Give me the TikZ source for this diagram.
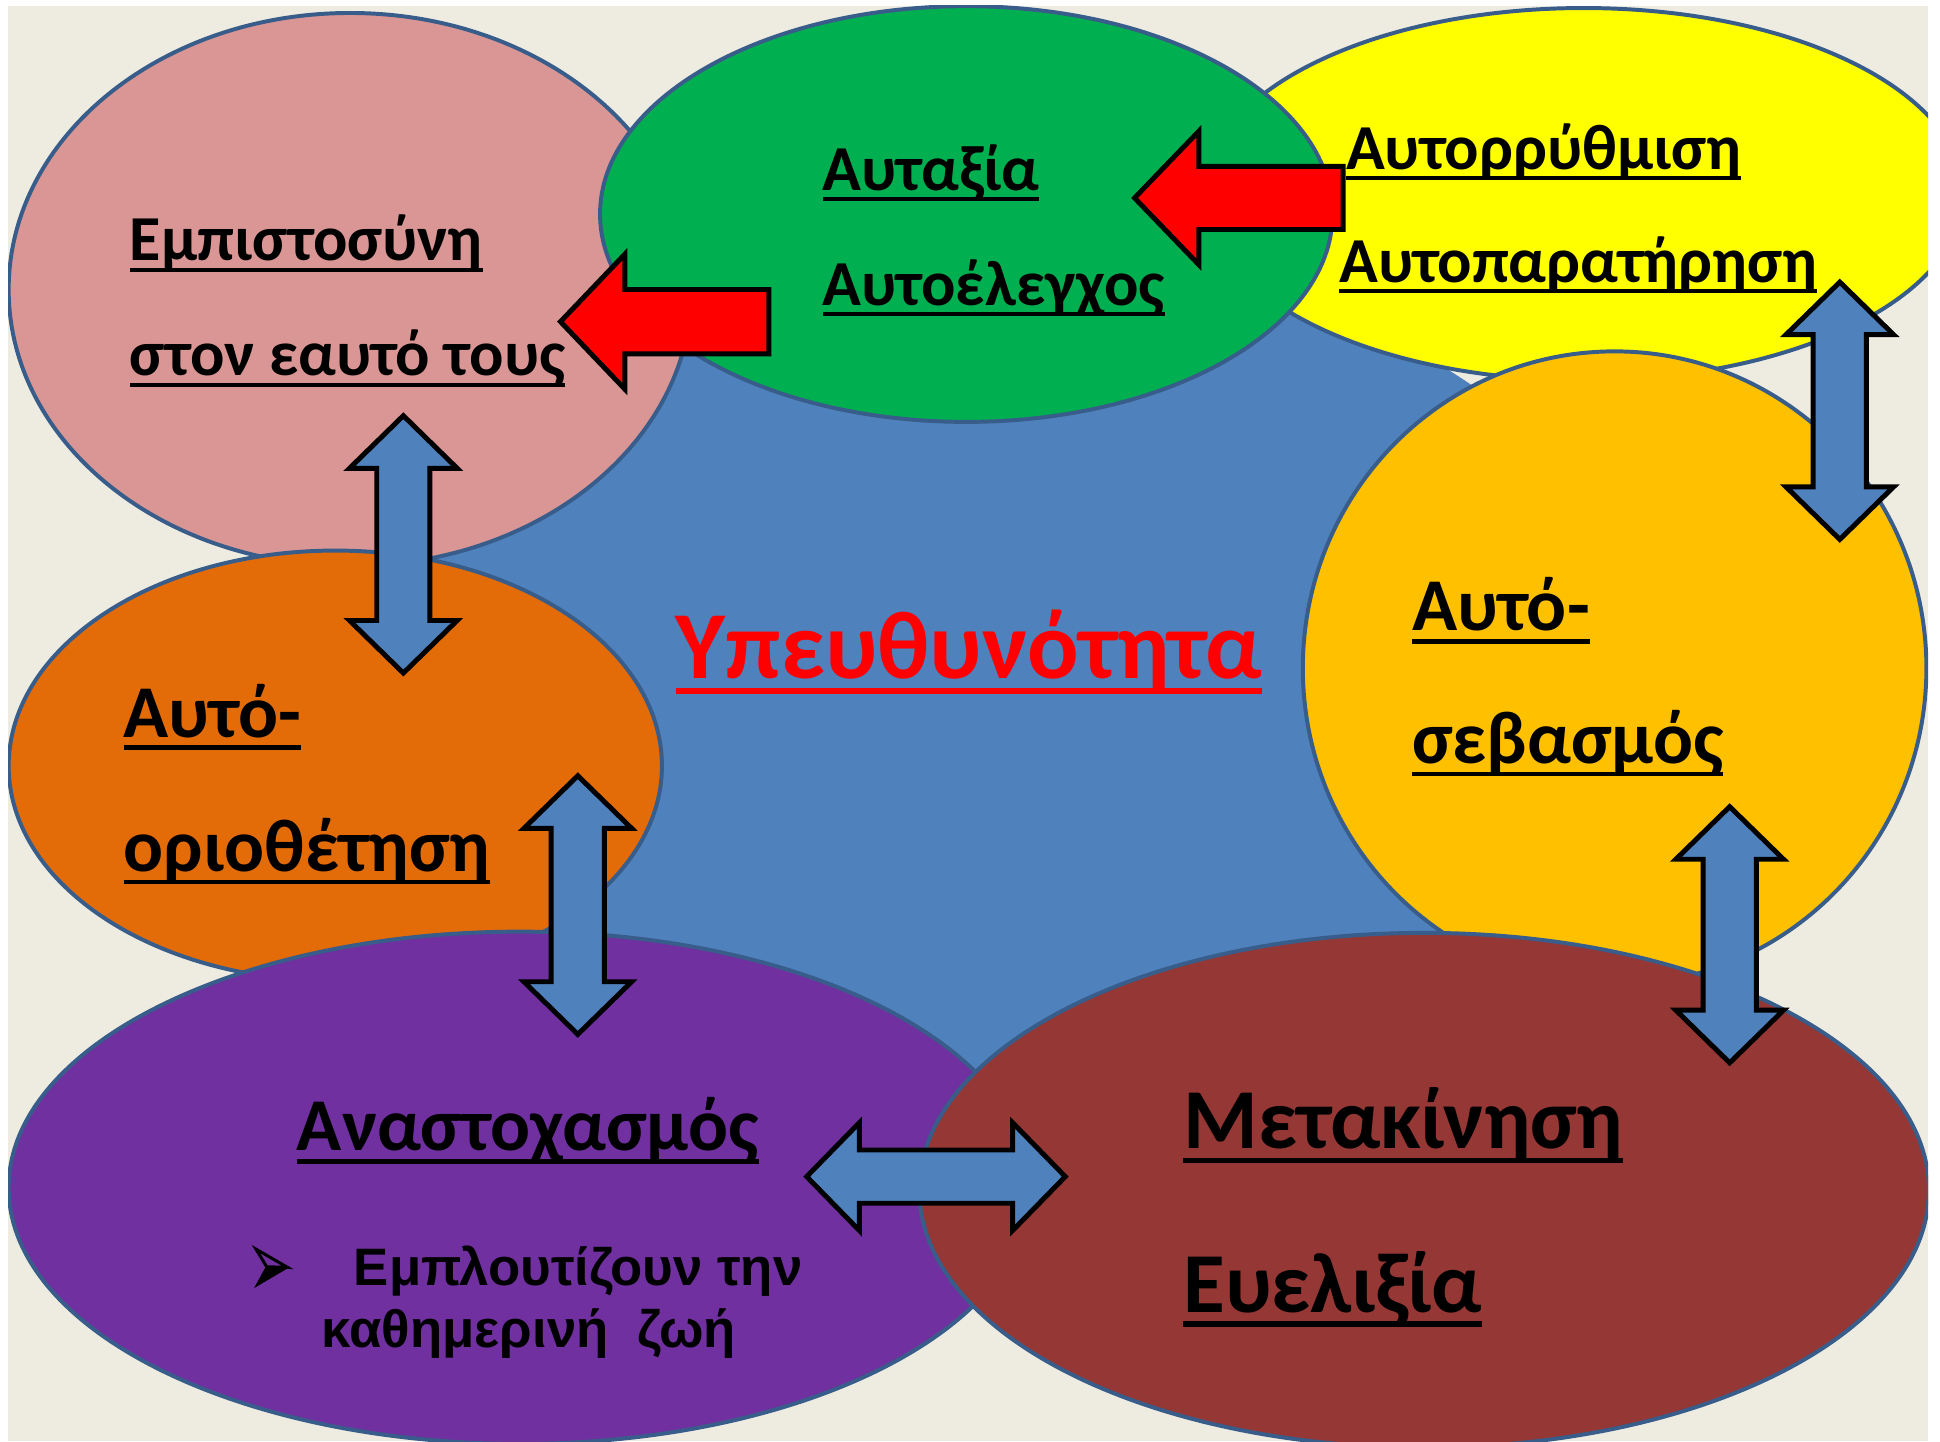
\documentclass[tikz,border=0pt]{standalone}
\usepackage{fontspec}
\setmainfont{Carlito}
\newfontfamily\arialfont{Liberation Sans}
\usetikzlibrary{shapes.geometric}
\definecolor{bgbeige}{HTML}{EEECE1}
\definecolor{outl}{HTML}{385D8A}
\definecolor{bluec}{HTML}{4F81BD}
\definecolor{pinkc}{HTML}{D99694}
\definecolor{greenc}{HTML}{00B050}
\definecolor{yellowc}{HTML}{FFFF00}
\definecolor{goldc}{HTML}{FFC000}
\definecolor{orangec}{HTML}{E36C09}
\definecolor{purplec}{HTML}{7030A0}
\definecolor{brownc}{HTML}{953735}
\definecolor{redc}{HTML}{FF0000}
\newcommand\ulx[1]{\setbox0=\hbox{#1}\rlap{\rule[-0.17em]{\wd0}{0.062em}}\box0}
\newcommand\vdarr[3]{\filldraw[bluearrow] (#1,#2) -- (#1+43.5,#2+42.5) -- (#1+21.5,#2+42.5) -- (#1+21.5,#3-42.5) -- (#1+43.5,#3-42.5) -- (#1,#3) -- (#1-43.5,#3-42.5) -- (#1-21.5,#3-42.5) -- (#1-21.5,#2+42.5) -- (#1-43.5,#2+42.5) -- cycle;}
\newcommand\hdarr[3]{\filldraw[bluearrow] (#2,#1) -- (#2+42.5,#1-43.5) -- (#2+42.5,#1-21.5) -- (#3-42.5,#1-21.5) -- (#3-42.5,#1-43.5) -- (#3,#1) -- (#3-42.5,#1+43.5) -- (#3-42.5,#1+21.5) -- (#2+42.5,#1+21.5) -- (#2+42.5,#1+43.5) -- cycle;}
\newcommand\redarr[6]{\filldraw[redarrow] (#1,#2) -- (#3,#2-#4) -- (#3,#2-#5) -- (#6,#2-#5) -- (#6,#2+#5) -- (#3,#2+#5) -- (#3,#2+#4) -- cycle;}
\begin{document}
\begin{tikzpicture}[x=0.5pt,y=-0.5pt,
  bub/.style 2 args={ellipse, draw=outl, line width=1.6pt, inner sep=0pt, outer sep=0pt, minimum width=#1pt, minimum height=#2pt},
  bluearrow/.style={fill=bluec, draw=black, line width=2pt, line join=miter},
  redarrow/.style={fill=redc, draw=black, line width=2pt, line join=miter},
  txt/.style={inner sep=0pt, outer sep=0pt, anchor=base west},
  fs/.style={font=\bfseries\fontsize{#1}{#1}\selectfont}]
\useasboundingbox (0,0) rectangle (1568,1165);
\fill[white] (0,0) rectangle (1568,1165);
\fill[bgbeige] (6.5,4.8) rectangle (1558.4,1165);
\begin{scope}
\clip (6.5,4.8) rectangle (1558.4,1165);
\node[bub={500}{330}, fill=bluec, draw=none] (centre) at (829,540) {};
\node[bub={276}{223.5}, fill=pinkc] (pink) at (283,234) {};
\node[bub={307}{150.5}, fill=yellowc] (yellow) at (1280,157) {};
\node[bub={296}{168}, fill=greenc] (green) at (781,173) {};
\node[bub={264}{174}, fill=orangec] (orange) at (271,619) {};
\node[bub={252}{256}, fill=goldc] (gold) at (1305,540) {};
\node[bub={413}{207}, fill=purplec] (purple) at (420,960) {};
\node[bub={408}{208}, fill=brownc] (brown) at (1151,962) {};
\end{scope}
% block arrows
\redarr{453}{260}{505}{54.5}{26}{621.5}
\redarr{917}{160}{969}{54}{25.5}{1085.5}
\vdarr{326}{336}{544}
\vdarr{467}{627}{836}
\vdarr{1487}{228}{436}
\vdarr{1398}{652}{859}
\hdarr{951}{652}{861}
% bullet
\coordinate (bt) at (232.5,1024.4);
\coordinate (bn) at (215.5,1023.8);
\filldraw[black, line width=0.6pt, line join=miter] (bn) -- (bt) -- (206.9,1039.5) -- cycle;
\draw[black, line width=1.2pt, line join=miter] (206.9,1009.6) -- (bt) -- (bn) -- cycle;
% texts
\node[txt, fs=25.9pt] (t1) at (105,210.8) {\ulx{Εμπιστοσύνη}};
\node[txt, fs=25.9pt] (t2) at (105,303.6) {\ulx{στον εαυτό τους}};
\node[txt, fs=25.9pt] (t3) at (665,154) {\ulx{Αυταξία}};
\node[txt, fs=25.9pt] (t4) at (665,246.8) {\ulx{Αυτοέλεγχος}};
\node[txt, fs=25.9pt] (t5) at (1088,136.6) {\ulx{Αυτορρύθμιση}};
\node[txt, fs=25.9pt] (t6) at (1082.5,228) {\ulx{Αυτοπαρατήρηση}};
\node[txt, fs=30.1pt] (t7) at (100,596) {\ulx{Αυτό-}};
\node[txt, fs=30.1pt] (t8) at (100,704.6) {\ulx{οριοθέτηση}};
\node[txt, fs=30.1pt] (t9) at (1141.5,510) {\ulx{Αυτό-}};
\node[txt, fs=30.1pt] (t10) at (1141.5,617.3) {\ulx{σεβασμός}};
\node[txt, fs=30.1pt] (t11) at (240,930.2) {\ulx{Αναστοχασμός}};
\node[txt, fs=34.5pt] (t12) at (956.5,928.3) {\ulx{Μετακίνηση}};
\node[txt, fs=34.5pt] (t13) at (956.5,1060.6) {\ulx{Ευελιξία}};
\node[txt, fs=38.8pt, text=redc] (t14) at (546,548) {\ulx{Υπευθυνότητα}};
\node[txt, font=\arialfont\bfseries\fontsize{21.3pt}{21.3pt}\selectfont] (t15) at (286,1039) {Εμπλουτίζουν την};
\node[txt, font=\arialfont\bfseries\fontsize{21.3pt}{21.3pt}\selectfont] (t16) at (260,1089) {καθημερινή\ \ ζωή};
\end{tikzpicture}
\end{document}
